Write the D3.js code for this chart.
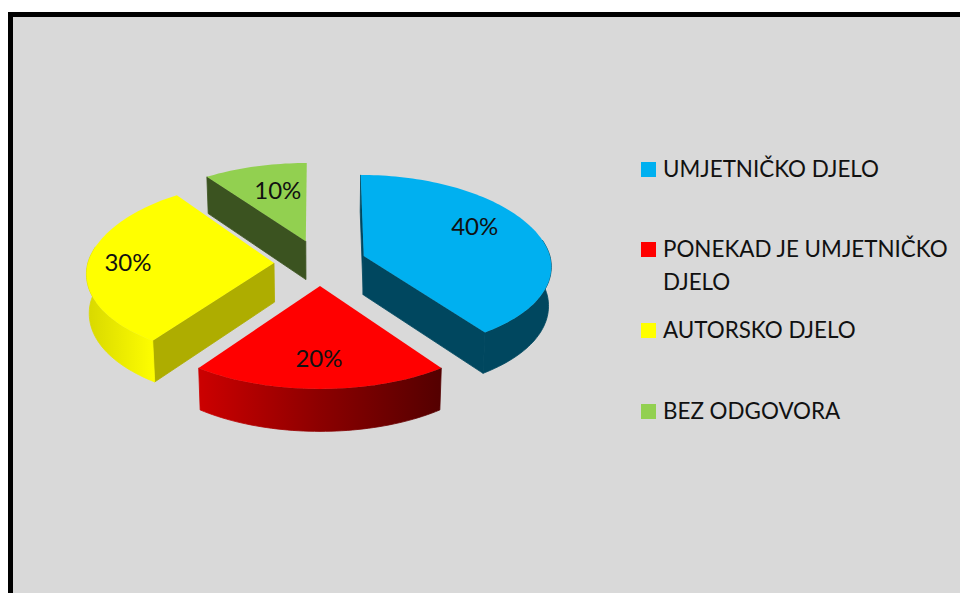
<!DOCTYPE html>
<html>
<head>
<meta charset="utf-8">
<script src="https://cdnjs.cloudflare.com/ajax/libs/d3/7.8.5/d3.min.js"></script>
<style>
html,body{margin:0;padding:0;background:#fff;overflow:hidden}
svg{display:block}
text{font-family:Lato,"Open Sans",sans-serif;fill:#111}
</style>
</head>
<body>
<svg id="c" width="960" height="593"></svg>
<script>
// ---- data ----
const categories = ["UMJETNIČKO DJELO", "PONEKAD JE UMJETNIČKO DJELO", "AUTORSKO DJELO", "BEZ ODGOVORA"];
const values = [40, 20, 30, 10];
const valueLabels = ["40%", "20%", "30%", "10%"];
const topColors = ["#00b0f0", "#ff0000", "#ffff00", "#92d050"];

// ---- layout ----
const W = 960, H = 593;
const cx = 320, cy = 263, R = 189, Ry = 88.5;
const svg = d3.select("#c");
const labelOffsets = [[111, -29], [-1, 73], [-146, 0], [-28, -50]];
const legendLines = [["UMJETNIČKO DJELO"], ["PONEKAD JE UMJETNIČKO", "DJELO"], ["AUTORSKO DJELO"], ["BEZ ODGOVORA"]];
const legendBase = [177, 257, 338, 419];

svg.append("rect").attr("x", 8).attr("y", 12).attr("width", W).attr("height", H).attr("fill", "#000");
svg.append("rect").attr("x", 13).attr("y", 17).attr("width", W).attr("height", H).attr("fill", "#d9d9d9");

const defs = svg.append("defs");
function grad(id, x1, x2, stops) {
  const g = defs.append("linearGradient").attr("id", id)
    .attr("gradientUnits", "userSpaceOnUse")
    .attr("x1", x1).attr("x2", x2).attr("y1", 0).attr("y2", 0);
  stops.forEach(s => g.append("stop").attr("offset", s[0]).attr("stop-color", s[1]));
}
grad("rimRed", 199, 441, [[0, "#cc0000"], [0.5, "#8c0000"], [1, "#540000"]]);
grad("rimYellow", 87, 153, [[0, "#d8d800"], [1, "#fdfd00"]]);

const cutColors = ["#00475f", "#7a0000", "#aead00", "#3b5320"];
const rimFills = ["#00475f", "url(#rimRed)", "url(#rimYellow)", "#3b5320"];

// explode position of a slice's apex from its mid-angle
function explode(mid) {
  const s = Math.sin(mid), c = Math.cos(mid);
  return { x: 46 * s, y: cy - 23 * c, ev: -0.23 * c };
}
// project polar point (radius fraction r, angle a) of an exploded slice
function project(ex, r, a) {
  const u = r * Math.sin(a), v = -r * Math.cos(a);
  const f = 1 + 0.24 * (ex.ev + 0.07);
  return [
    cx + ex.x * (1 + 0.07 * Math.min(v, 0)) + R * u * (1 + 0.12 * v - 0.015 * (1 - v * v) * r),
    ex.y + Ry * f * v * (1 + 0.0847 * v)
  ];
}
// extrude a top point downward
function drop(p) {
  return [cx + (p[0] - cx) * 0.988, p[1] + 39 + 0.027 * (p[1] - 260)];
}
const line = d3.line();
const pie = d3.pie().sort(null).value(d => d);
const arcs = pie(values);

const order = [3, 0, 2, 1];
order.forEach(i => {
  const d = arcs[i];
  const ex = explode((d.startAngle + d.endAngle) / 2);
  const angles = d3.range(d.startAngle, d.endAngle, Math.PI / 120).concat([d.endAngle]);
  const rim = angles.map(a => project(ex, 1, a));
  const apex = project(ex, 0, 0);
  const g = svg.append("g");
  // cut faces that turn toward the viewer
  const faces = [];
  if (Math.sin(d.startAngle) < 1e-9) faces.push(rim[0]);
  if (Math.sin(d.endAngle) > 1e-9) faces.push(rim[rim.length - 1]);
  faces.forEach(p => {
    g.append("path")
      .attr("d", line([p, apex, drop(apex), drop(p)]) + "Z")
      .attr("fill", cutColors[i])
      .attr("stroke", cutColors[i]).attr("stroke-width", 0.8);
  });
  // near part of the outer rim
  const nearAngles = angles.filter(a => a > Math.PI * 0.44 && a < Math.PI * 1.56);
  if (nearAngles.length > 1) {
    const nearRim = nearAngles.map(a => project(ex, 1, a));
    g.append("path")
      .attr("d", line(nearRim.concat(nearRim.map(drop).reverse())) + "Z")
      .attr("fill", rimFills[i])
      .attr("stroke", rimFills[i]).attr("stroke-width", 0.8);
  }
  // top face
  g.append("path")
    .attr("d", line([apex].concat(rim)) + "Z")
    .attr("fill", topColors[i]);
  // value label
  g.append("text")
    .attr("x", apex[0] + labelOffsets[i][0])
    .attr("y", apex[1] + labelOffsets[i][1] + 8)
    .attr("text-anchor", "middle")
    .attr("font-size", 24)
    .text(valueLabels[i]);
});

// legend
const legend = svg.append("g");
categories.forEach((c, i) => {
  const b = legendBase[i];
  legend.append("rect").attr("x", 641).attr("y", b - 15).attr("width", 15).attr("height", 15).attr("fill", topColors[i]);
  legendLines[i].forEach((t, j) => {
    legend.append("text")
      .attr("x", 663).attr("y", b + j * 33)
      .attr("font-size", 22.4)
      .text(t);
  });
});
</script>
</body>
</html>
